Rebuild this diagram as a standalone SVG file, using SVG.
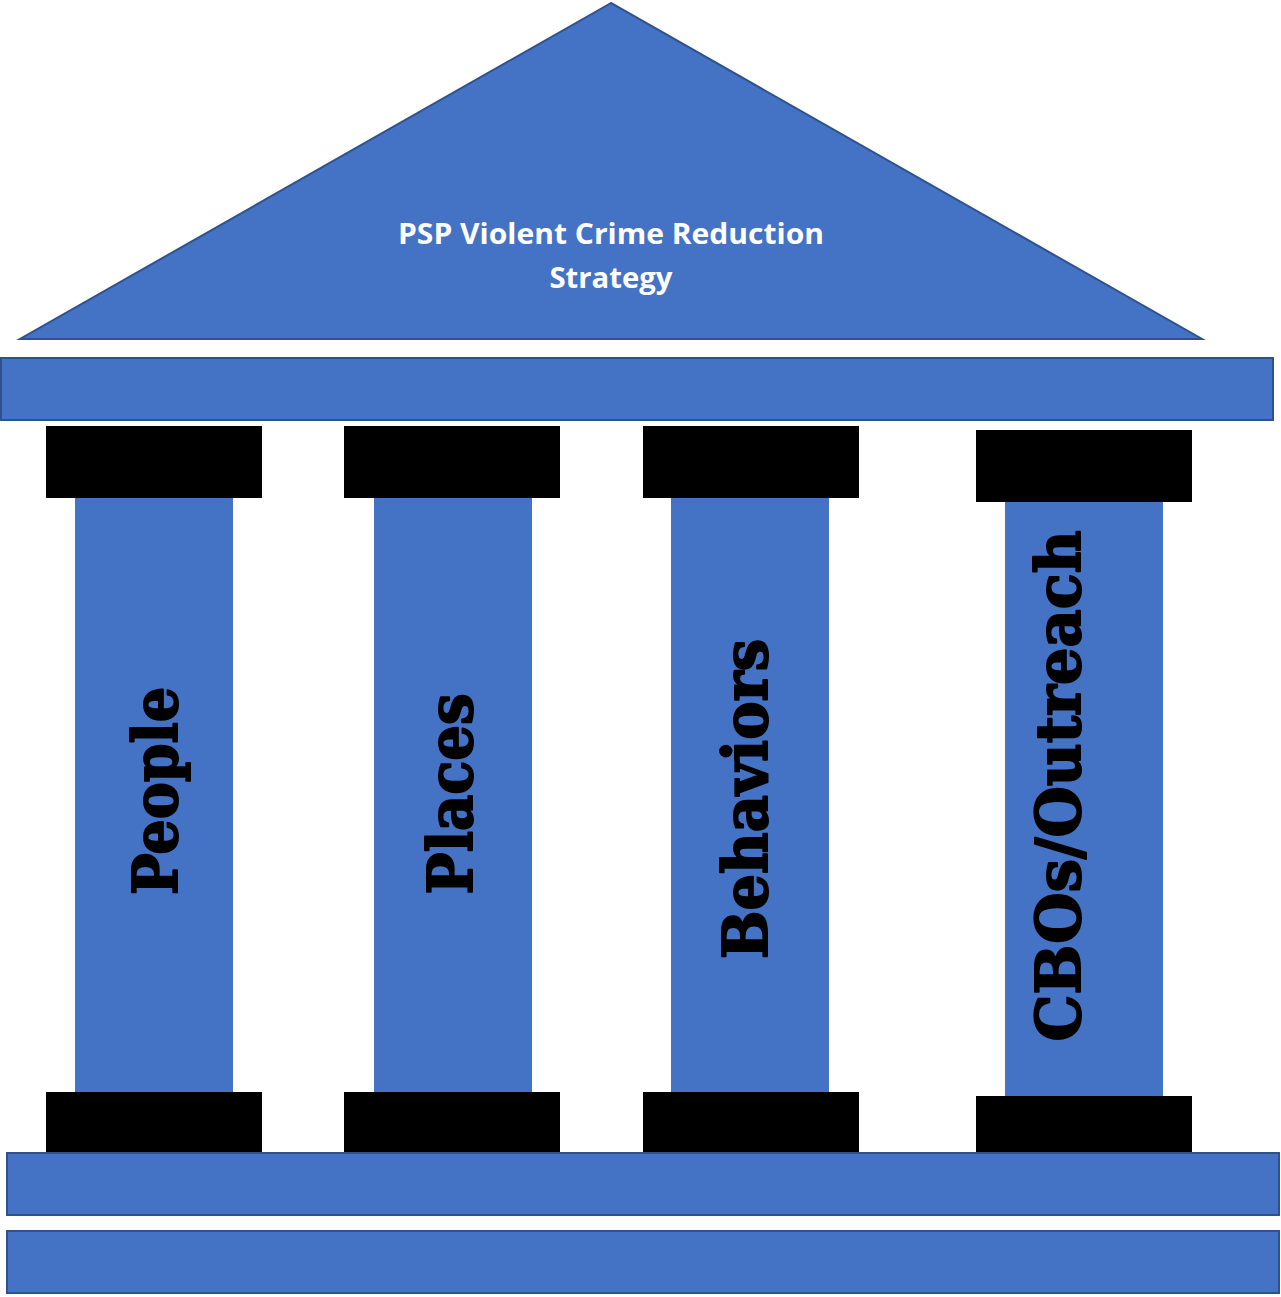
<svg xmlns="http://www.w3.org/2000/svg" width="1281" height="1297" viewBox="0 0 1281 1297">
<style>
.blue{fill:#4472C4;stroke:#2F528F;stroke-width:2}
.col{fill:#4472C4}
.cap{fill:#000}
.title{font-family:"Open Sans","Liberation Sans",sans-serif;font-weight:bold;font-size:29px;fill:#fff;text-anchor:middle}
.lbl{font-family:"DejaVu Serif","Liberation Serif",serif;font-weight:bold;font-size:62px;fill:#000;stroke:#000;stroke-width:2;stroke-linejoin:round;text-anchor:middle}
</style>
<rect width="1281" height="1297" fill="#fff"/>
<g id="roof">
<polygon class="blue" points="611,3 20,339 1202,339"/>
<text class="title" x="611" y="244" textLength="426" lengthAdjust="spacingAndGlyphs">PSP Violent Crime Reduction</text>
<text class="title" x="611" y="288" textLength="123" lengthAdjust="spacingAndGlyphs">Strategy</text>
</g>
<g id="top-beam"><rect class="blue" x="1" y="358" width="1272" height="62"/></g>
<g id="pillar-people">
<rect class="cap" x="46" y="426" width="216" height="72"/>
<rect class="col" x="75" y="498" width="158" height="594"/>
<rect class="cap" x="46" y="1092" width="216" height="60"/>
<text class="lbl" transform="translate(177,791) rotate(-90)" textLength="208" lengthAdjust="spacingAndGlyphs">People</text>
</g>
<g id="pillar-places">
<rect class="cap" x="344" y="426" width="216" height="72"/>
<rect class="col" x="374" y="498" width="158" height="594"/>
<rect class="cap" x="344" y="1092" width="216" height="60"/>
<text class="lbl" transform="translate(472,794) rotate(-90)" textLength="201" lengthAdjust="spacingAndGlyphs">Places</text>
</g>
<g id="pillar-behaviors">
<rect class="cap" x="643" y="426" width="216" height="72"/>
<rect class="col" x="671" y="498" width="158" height="594"/>
<rect class="cap" x="643" y="1092" width="216" height="60"/>
<text class="lbl" transform="translate(767,799) rotate(-90)" textLength="320" lengthAdjust="spacingAndGlyphs">Behaviors</text>
</g>
<g id="pillar-cbos">
<rect class="cap" x="976" y="430" width="216" height="72"/>
<rect class="col" x="1005" y="502" width="158" height="594"/>
<rect class="cap" x="976" y="1096" width="216" height="56"/>
<text class="lbl" transform="translate(1080,786) rotate(-90)" textLength="511" lengthAdjust="spacingAndGlyphs">CBOs/Outreach</text>
</g>
<g id="base-beam-1"><rect class="blue" x="7" y="1153" width="1272" height="62"/></g>
<g id="base-beam-2"><rect class="blue" x="7" y="1231" width="1272" height="62"/></g>
<g id="connectors"></g>
</svg>
